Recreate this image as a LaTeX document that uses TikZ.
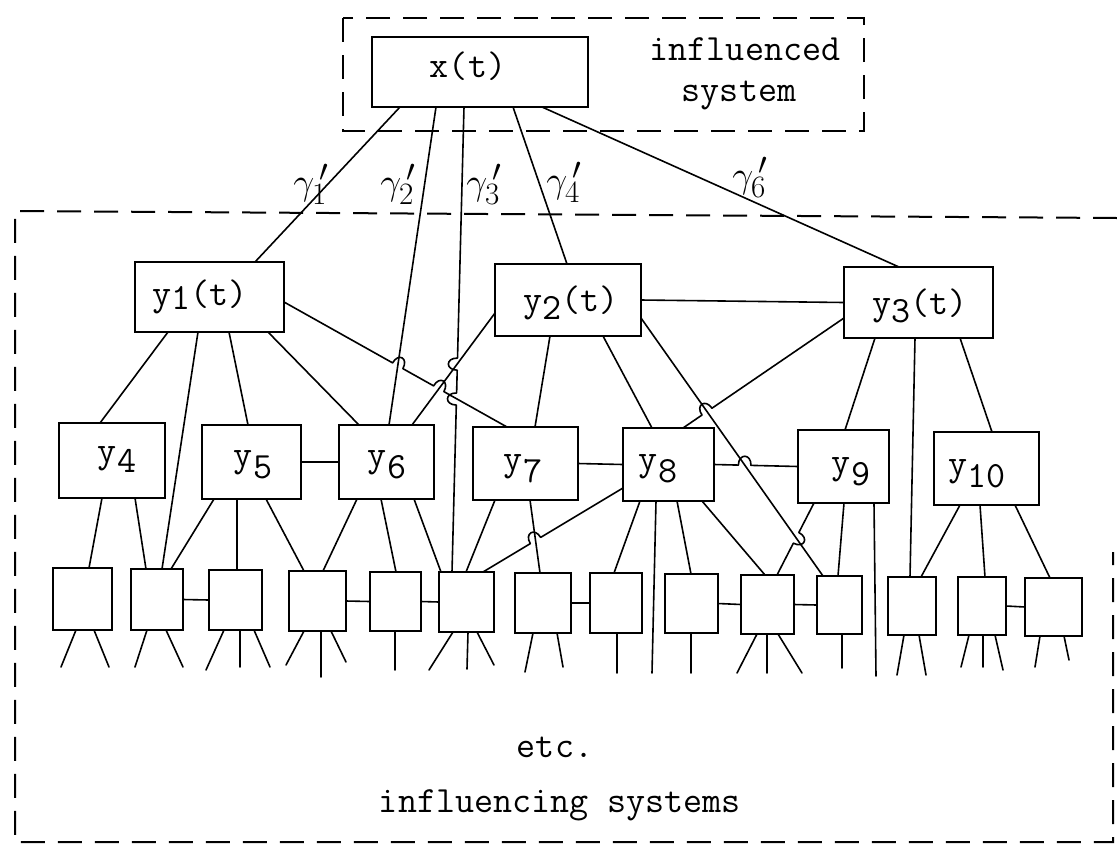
\documentclass[tikz,border=0pt]{standalone}
\usepackage{graphicx}
\usepackage{fontspec}
\usetikzlibrary{calc}
\newcommand{\lowd}[2][8pt]{\raisebox{-#1}{#2}}
\newcommand{\lgs}[4]{\draw[conn] ([xshift=#2pt]#1.south west) -- ++(#3,#4);}
\newcommand{\gmm}[1]{\scalebox{1.5}{\Huge$\gamma_{#1}^{\,\prime}$}}
\tikzset{
  box/.style={draw, line width=2.2pt, inner sep=0pt, outer sep=0pt, rectangle, fill=white},
  conn/.style={line width=1.6pt, line cap=round, line join=round},
  dashbox/.style={line width=2pt, dash pattern=on 24pt off 13pt},
  tw/.style={font=\ttfamily\fontsize{37}{41}\selectfont, inner sep=0pt},
  gam/.style={inner sep=0pt},
  hop/.style n args={5}{insert path={-- ($(#1)!#3!(#2)$) .. controls ($(#1)!#3!(#2)!12pt!#5:(#2)$) and ($(#1)!#4!(#2)!12pt!#5:(#2)$) .. ($(#1)!#4!(#2)$)}},
}
\begin{document}
\begin{tikzpicture}[x=1pt,y=-1pt]
\useasboundingbox (0,0) rectangle (1117,847);
% dashed system boundaries
\draw[dashbox] (343,18) rectangle (864,131);
\draw[dashbox] (1117,218) -- (15,211) -- (15,842) -- (1113,842) -- (1113,552);
% boxes
\node[box, minimum width=216pt, minimum height=70pt] (X) at (480,72) {};
\node[box, minimum width=149pt, minimum height=70pt] (Y1) at (209.5,297) {};
\node[box, minimum width=146pt, minimum height=72pt] (Y2) at (568,300) {};
\node[box, minimum width=149pt, minimum height=71pt] (Y3) at (918.5,302.5) {};
\node[box, minimum width=106pt, minimum height=75pt] (Y4) at (112,460.5) {};
\node[box, minimum width=99pt, minimum height=74pt] (Y5) at (251.5,462) {};
\node[box, minimum width=95pt, minimum height=74pt] (Y6) at (386.5,462) {};
\node[box, minimum width=105pt, minimum height=73pt] (Y7) at (525.5,463.5) {};
\node[box, minimum width=91pt, minimum height=73pt] (Y8) at (668.5,464.5) {};
\node[box, minimum width=91pt, minimum height=73pt] (Y9) at (843.5,466.5) {};
\node[box, minimum width=105pt, minimum height=73pt] (Y10) at (986.5,468.5) {};
\node[box, minimum width=59pt, minimum height=62pt] (B1) at (82.5,599) {};
\node[box, minimum width=52pt, minimum height=61pt] (B2) at (157,599.5) {};
\node[box, minimum width=53pt, minimum height=60pt] (B3) at (235.5,600) {};
\node[box, minimum width=57pt, minimum height=60pt] (B4) at (317.5,601) {};
\node[box, minimum width=51pt, minimum height=59pt] (B5) at (395.5,601.5) {};
\node[box, minimum width=55pt, minimum height=60pt] (B6) at (466.5,602) {};
\node[box, minimum width=56pt, minimum height=60pt] (B7) at (543,603) {};
\node[box, minimum width=52pt, minimum height=60pt] (B8) at (616,603) {};
\node[box, minimum width=53pt, minimum height=59pt] (B9) at (691.5,603.5) {};
\node[box, minimum width=53pt, minimum height=59pt] (B10) at (767.5,604.5) {};
\node[box, minimum width=45pt, minimum height=58pt] (B11) at (839.5,605) {};
\node[box, minimum width=48pt, minimum height=58pt] (B12) at (912,606) {};
\node[box, minimum width=48pt, minimum height=58pt] (B13) at (982,606) {};
\node[box, minimum width=57pt, minimum height=58pt] (B14) at (1053.5,607) {};
% texts
\node[tw] (tX) at (468,66) {x(t)};
\node[tw, anchor=base] (tInf) at (745,60) {influenced};
\node[tw, anchor=base] (tSys) at (739,101) {system};
\node[tw] (t1) at (200,297) {y\lowd[4pt]{1}(t)};
\node[tw] (t2) at (571,303) {y\lowd{2}(t)};
\node[tw] (t3) at (920,306) {y\lowd{3}(t)};
\node[tw] (t4) at (117,460) {y\lowd[10pt]{4}};
\node[tw] (t5) at (253,465) {y\lowd[12pt]{5}};
\node[tw] (t6) at (387,465) {y\lowd[12pt]{6}};
\node[tw] (t7) at (523,469) {y\lowd[12pt]{7}};
\node[tw] (t8) at (658,469) {y\lowd[12pt]{8}};
\node[tw] (t9) at (851,472) {y\lowd[12pt]{9}};
\node[tw] (t10) at (977,474) {y\lowd[12pt]{10}};
\node[tw, anchor=base] (tEtc) at (555,757) {etc.};
\node[tw, anchor=base] (tInfl) at (560,812) {influencing systems};
% gamma labels
\node[gam] (g1) at (311,184) {\gmm{1}};
\node[gam] (g2) at (398,184) {\gmm{2}};
\node[gam] (g3) at (484,184) {\gmm{3}};
\node[gam] (g4) at (564,182) {\gmm{4}};
\node[gam] (g6) at (750,177) {\gmm{6}};
% from x(t)
\draw[conn] ([xshift=28pt]X.south west) -- ([xshift=120pt]Y1.north west);
\draw[conn] ([xshift=64pt]X.south west) -- ([xshift=50pt]Y6.north west);
\coordinate (g3s) at ([xshift=92pt]X.south west);
\coordinate (g3e) at ([xshift=13pt]B6.north west);
\draw[conn] (g3s) [hop={g3s}{g3e}{0.540}{0.566}{-90}] [hop={g3s}{g3e}{0.615}{0.641}{-90}] -- (g3e);
\draw[conn] ([xshift=141pt]X.south west) -- ([xshift=72pt]Y2.north west);
\draw[conn] ([xshift=170pt]X.south west) -- ([xshift=55pt]Y3.north west);
% from y1
\draw[conn] ([xshift=33pt]Y1.south west) -- ([xshift=41pt]Y4.north west);
\draw[conn] ([xshift=63pt]Y1.south west) -- ([xshift=31pt]B2.north west);
\draw[conn] ([xshift=94pt]Y1.south west) -- ([xshift=46pt]Y5.north west);
\draw[conn] ([xshift=133pt]Y1.south west) -- ([xshift=20pt]Y6.north west);
\coordinate (a1) at ([yshift=-40pt]Y1.north east);
\coordinate (a7) at ([xshift=34pt]Y7.north west);
\draw[conn] (a1) [hop={a1}{a7}{0.487}{0.533}{90}] [hop={a1}{a7}{0.671}{0.717}{90}] -- (a7);
% from y2
\draw[conn] (Y2.east) -- (Y3.west);
\draw[conn] ([yshift=-49pt]Y2.north west) -- ([xshift=73pt]Y6.north west);
\draw[conn] ([xshift=55pt]Y2.south west) -- ([xshift=62pt]Y7.north west);
\draw[conn] ([xshift=108pt]Y2.south west) -- ([xshift=29pt]Y8.north west);
\draw[conn] ([yshift=-54pt]Y2.north east) -- ([xshift=6pt]B11.north west);
% from y3
\coordinate (c3) at ([yshift=-51pt]Y3.north west);
\coordinate (c8) at ([xshift=60pt]Y8.north west);
\draw[conn] (c3) [hop={c3}{c8}{0.820}{0.882}{-90}] -- (c8);
\draw[conn] ([xshift=31pt]Y3.south west) -- ([xshift=47pt]Y9.north west);
\draw[conn] ([xshift=71pt]Y3.south west) -- ([xshift=22pt]B12.north west);
\draw[conn] ([xshift=116pt]Y3.south west) -- ([xshift=58pt]Y10.north west);
% middle row links
\draw[conn] (Y5.east) -- (Y6.west);
\draw[conn] (Y7.east) -- (Y8.west);
\draw[conn] (Y8.east) [hop={Y8.east}{Y9.west}{0.29}{0.44}{90}] -- (Y9.west);
% middle to bottom
\draw[conn] ([xshift=43pt]Y4.south west) -- ([xshift=36pt]B1.north west);
\draw[conn] ([xshift=76pt]Y4.south west) -- ([xshift=15pt]B2.north west);
\draw[conn] ([xshift=12pt]Y5.south west) -- ([xshift=40pt]B2.north west);
\draw[conn] ([xshift=35pt]Y5.south west) -- ([xshift=28pt]B3.north west);
\draw[conn] ([xshift=64pt]Y5.south west) -- ([xshift=15pt]B4.north west);
\draw[conn] ([xshift=18pt]Y6.south west) -- ([xshift=34pt]B4.north west);
\draw[conn] ([xshift=42pt]Y6.south west) -- ([xshift=26pt]B5.north west);
\draw[conn] ([xshift=75pt]Y6.south west) -- ([xshift=2pt]B6.north west);
\draw[conn] ([xshift=22pt]Y7.south west) -- ([xshift=27pt]B6.north west);
\draw[conn] ([xshift=57pt]Y7.south west) -- ([xshift=25pt]B7.north west);
\coordinate (d8) at ([yshift=-60pt]Y8.north west);
\coordinate (d6) at ([xshift=44pt]B6.north west);
\draw[conn] (d8) [hop={d8}{d6}{0.588}{0.662}{-90}] -- (d6);
\draw[conn] ([xshift=17pt]Y8.south west) -- ([xshift=24pt]B8.north west);
\coordinate (e8) at (652,673);
\draw[conn] ([xshift=33pt]Y8.south west) -- (e8);
\draw[conn] ([xshift=54pt]Y8.south west) -- ([xshift=26pt]B9.north west);
\draw[conn] ([xshift=79pt]Y8.south west) -- ([xshift=24pt]B10.north west);
\coordinate (f9) at ([xshift=16pt]Y9.south west);
\coordinate (f10) at ([xshift=36pt]B10.north west);
\draw[conn] (f9) [hop={f9}{f10}{0.41}{0.558}{90}] -- (f10);
\draw[conn] ([xshift=46pt]Y9.south west) -- ([xshift=21pt]B11.north west);
\coordinate (e9) at (876,676);
\draw[conn] ([xshift=76pt]Y9.south west) -- (e9);
\draw[conn] ([xshift=26pt]Y10.south west) -- ([xshift=33pt]B12.north west);
\draw[conn] ([xshift=46pt]Y10.south west) -- ([xshift=27pt]B13.north west);
\draw[conn] ([xshift=81pt]Y10.south west) -- ([xshift=25pt]B14.north west);
% bottom row links
\draw[conn] (B2.east) -- (B3.west);
\draw[conn] (B4.east) -- (B5.west);
\draw[conn] (B5.east) -- (B6.west);
\draw[conn] (B7.east) -- (B8.west);
\draw[conn] (B9.east) -- (B10.west);
\draw[conn] (B10.east) -- (B11.west);
\draw[conn] (B13.east) -- (B14.west);
% legs
\lgs{B1}{23}{-15}{37} \lgs{B1}{41}{15}{37}
\lgs{B2}{16}{-12}{37} \lgs{B2}{35}{17}{37}
\lgs{B3}{15}{-18}{40} \lgs{B3}{31}{0}{37} \lgs{B3}{45}{16}{37}
\lgs{B4}{15}{-18}{34} \lgs{B4}{32}{0}{46} \lgs{B4}{42}{15}{31}
\lgs{B5}{25}{0}{39}
\lgs{B6}{14}{-24}{38} \lgs{B6}{29}{-1}{37} \lgs{B6}{38}{17}{33}
\lgs{B7}{18}{-8}{39} \lgs{B7}{42}{6}{34}
\lgs{B8}{27}{0}{40}
\lgs{B9}{26}{0}{40}
\lgs{B10}{16}{-20}{39} \lgs{B10}{26}{0}{39} \lgs{B10}{37}{24}{39}
\lgs{B11}{25}{0}{34}
\lgs{B12}{16}{-7}{40} \lgs{B12}{31}{7}{40}
\lgs{B13}{11}{-8}{32} \lgs{B13}{25}{0}{32} \lgs{B13}{37}{8}{35}
\lgs{B14}{15}{-5}{31} \lgs{B14}{39}{5}{24}
\end{tikzpicture}
\end{document}
